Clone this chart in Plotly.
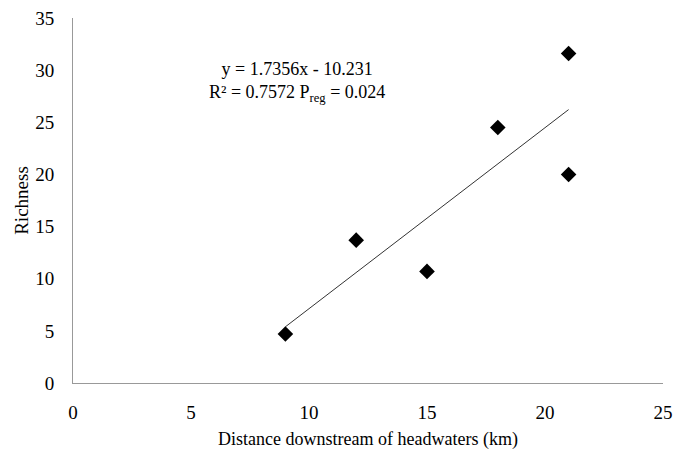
import plotly.graph_objects as go

distance = [9, 12, 15, 18, 21, 21]
richness = [4.7, 13.7, 10.7, 24.5, 31.6, 20.0]
slope = 1.7356
intercept = -10.231
trend_x = [min(distance), max(distance)]
trend_y = [slope * v + intercept for v in trend_x]

font = "Liberation Serif, Times New Roman, serif"

fig = go.Figure()
fig.add_trace(go.Scatter(x=trend_x, y=trend_y, mode="lines",
                         line=dict(color="#333333", width=1), showlegend=False))
fig.add_trace(go.Scatter(x=distance, y=richness, mode="markers",
                         marker=dict(symbol="diamond", size=12, color="black"),
                         showlegend=False))

fig.add_annotation(x=0.38, y=0.825, xref="paper", yref="paper",
                   xanchor="center", yanchor="middle",
                   text="y = 1.7356x - 10.231<br>R² = 0.7572 P<sub>reg</sub> = 0.024",
                   showarrow=False, align="center",
                   font=dict(family=font, size=18, color="black"))

fig.update_layout(
    width=680, height=453,
    margin=dict(l=73, r=17, t=18, b=70),
    paper_bgcolor="white", plot_bgcolor="white",
    font=dict(family=font, size=19, color="black"),
)
fig.update_xaxes(range=[0, 25], dtick=5, showgrid=False, zeroline=False,
                 showline=True, linecolor="#999999", linewidth=1, ticks="",
                 ticklabelstandoff=12, automargin=False,
                 title=dict(text="Distance downstream of headwaters (km)",
                            font=dict(size=18), standoff=10))
fig.update_yaxes(range=[0, 35], dtick=5, showgrid=False, zeroline=False,
                 showline=True, linecolor="#999999", linewidth=1, ticks="",
                 ticklabelstandoff=14, automargin=False,
                 title=dict(text="Richness", font=dict(size=19), standoff=1))

# remove the browser's default 8px body margin so the figure fills the window
fig.write_html("out.html", config={"displayModeBar": False},
               post_script="document.body.style.margin='0';")
